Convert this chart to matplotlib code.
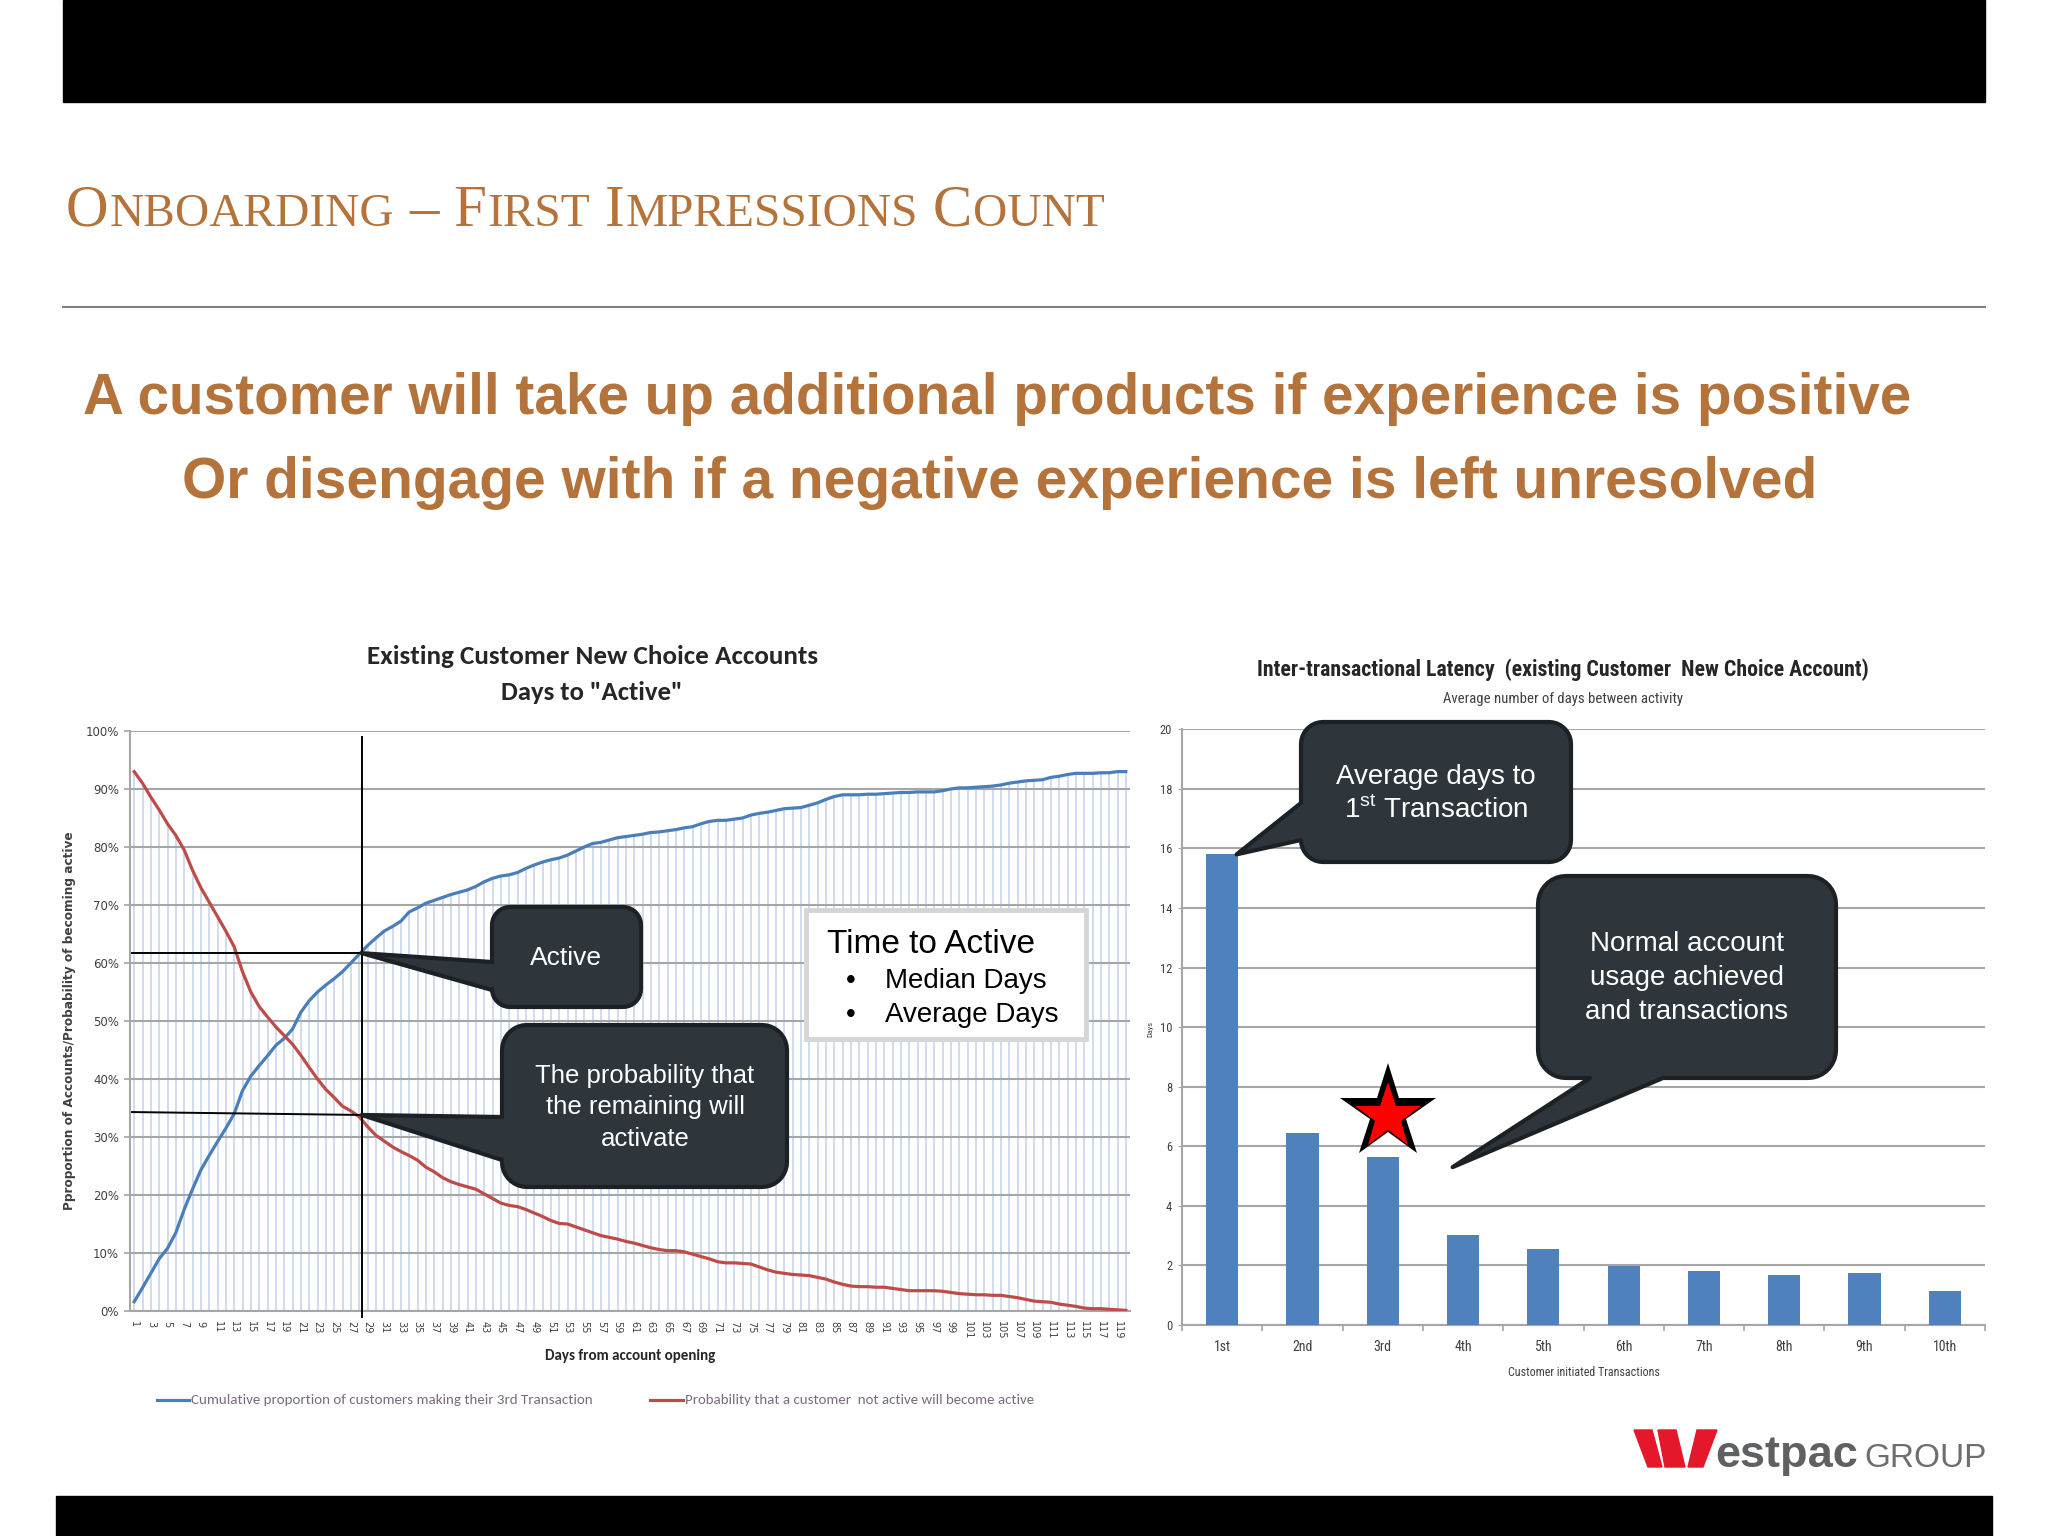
import numpy as np
import matplotlib
matplotlib.use("Agg")
import matplotlib.pyplot as plt
from matplotlib.patches import Polygon, Rectangle
from matplotlib import font_manager as fm

# ---------------- data ----------------
days = list(range(1, 121))
cumulative_3rd_txn = [
    1.6, 4.0, 6.5, 9.0, 10.8, 13.5, 17.5, 21.0, 24.3, 26.8,
    29.2, 31.5, 34.0, 38.0, 40.5, 42.3, 44.0, 45.8, 47.0, 48.6,
    51.5, 53.5, 55.0, 56.2, 57.3, 58.5, 60.0, 61.5, 63.0, 64.3,
    65.5, 66.3, 67.2, 68.8, 69.5, 70.3, 70.8, 71.3, 71.8, 72.2,
    72.6, 73.2, 74.0, 74.6, 75.0, 75.2, 75.6, 76.3, 76.9, 77.4,
    77.8, 78.1, 78.6, 79.3, 80.0, 80.6, 80.8, 81.2, 81.6, 81.8,
    82.0, 82.2, 82.5, 82.6, 82.8, 83.0, 83.3, 83.5, 84.0, 84.4,
    84.6, 84.6, 84.8, 85.0, 85.5, 85.8, 86.0, 86.3, 86.6, 86.7,
    86.8, 87.2, 87.6, 88.2, 88.7, 89.0, 89.0, 89.0, 89.1, 89.1,
    89.2, 89.3, 89.4, 89.4, 89.5, 89.5, 89.5, 89.7, 90.0, 90.2,
    90.2, 90.3, 90.4, 90.5, 90.7, 91.0, 91.2, 91.4, 91.5, 91.6,
    92.0, 92.2, 92.5, 92.7, 92.7, 92.7, 92.8, 92.8, 93.0, 93.0]
prob_not_active_becomes_active = [
    93.0, 91.0, 88.6, 86.4, 84.0, 82.0, 79.5, 76.0, 73.0, 70.5,
    68.0, 65.5, 62.8, 58.5, 55.0, 52.5, 50.7, 49.0, 47.5, 46.0,
    44.1, 42.0, 40.0, 38.2, 36.8, 35.3, 34.5, 33.5, 31.8, 30.3,
    29.3, 28.3, 27.5, 26.8, 26.0, 24.8, 24.0, 23.0, 22.3, 21.8,
    21.4, 21.0, 20.2, 19.4, 18.6, 18.2, 18.0, 17.5, 16.9, 16.3,
    15.6, 15.1, 15.0, 14.5, 14.0, 13.5, 13.0, 12.7, 12.4, 12.0,
    11.7, 11.3, 10.9, 10.6, 10.4, 10.4, 10.2, 9.8, 9.4, 9.0,
    8.5, 8.3, 8.3, 8.2, 8.1, 7.6, 7.1, 6.7, 6.5, 6.3,
    6.2, 6.1, 5.8, 5.5, 5.0, 4.6, 4.3, 4.2, 4.2, 4.1,
    4.1, 3.9, 3.7, 3.5, 3.5, 3.5, 3.5, 3.4, 3.2, 3.0,
    2.9, 2.8, 2.8, 2.7, 2.7, 2.5, 2.3, 2.0, 1.7, 1.6,
    1.5, 1.2, 1.0, 0.8, 0.5, 0.4, 0.4, 0.3, 0.2, 0.1]
pct_tick_values = [0, 10, 20, 30, 40, 50, 60, 70, 80, 90, 100]
pct_tick_labels = ["0%", "10%", "20%", "30%", "40%", "50%", "60%", "70%", "80%", "90%", "100%"]
day_tick_values = days[::2]
marker_day = 28.3
marker_active_pct = 61.7
marker_prob_pct = [34.3, 33.8]

txn_labels = ["1st", "2nd", "3rd", "4th", "5th", "6th", "7th", "8th", "9th", "10th"]
avg_days_between = [15.8, 6.45, 5.65, 3.02, 2.55, 1.98, 1.80, 1.68, 1.75, 1.15]
days_tick_values = [0, 2, 4, 6, 8, 10, 12, 14, 16, 18, 20]

# ---------------- fonts ----------------
def _w(f):
    w = f.weight
    if isinstance(w, str):
        w = fm.weight_dict.get(w, 400)
    return int(w)


def pick(cands, bold=False):
    for c in cands:
        for f in fm.fontManager.ttflist:
            if f.name == c and f.style == "normal" and ((_w(f) >= 600) == bold):
                return c
    return "DejaVu Sans"


NARROW_CANDS = ["Liberation Sans Narrow", "Arial Narrow", "Roboto Condensed", "Archivo Narrow",
                "PT Sans Narrow", "Fira Sans Condensed", "IBM Plex Sans Condensed",
                "Encode Sans Condensed", "Barlow Semi Condensed", "Asap Condensed"]
NARROW_B = pick(NARROW_CANDS, True)
NARROW_R = pick(NARROW_CANDS, False)
CAL_B = pick(["Carlito", "Lato", "Open Sans", "Noto Sans"], True)
CAL_R = pick(["Carlito", "Lato", "Open Sans", "Noto Sans"], False)
ARIAL = "Liberation Sans"
SERIF = "Liberation Serif"
BROWN = "#b5733c"

W, H = 2048, 1536
fig = plt.figure(figsize=(W / 100, H / 100), dpi=100)
fig.patch.set_facecolor("white")
renderer = fig.canvas.get_renderer()

# ---------------- left chart ----------------
ax1 = fig.add_axes([130 / W, (H - 1311) / H, 1000 / W, 580 / H])
ax1.set_axisbelow("line")
ax1.vlines(days, 0, np.maximum(cumulative_3rd_txn, prob_not_active_becomes_active),
           color="#c4d2ec", lw=1.1, zorder=1)
ax1.plot(days, cumulative_3rd_txn, color="#4a7ebb", lw=2.3, zorder=3)
ax1.plot(days, prob_not_active_becomes_active, color="#be4b48", lw=2.3, zorder=3)
ax1.set_xlim(0.5, 120.5)
ax1.set_ylim(0, 100)
ax1.set_yticks(pct_tick_values)
ax1.set_yticklabels(pct_tick_labels)
ax1.set_xticks(day_tick_values)
ax1.set_xticklabels([str(d) for d in day_tick_values], rotation=-90)
ax1.grid(axis="y", color="#a6a6a6", lw=1.5)
for s in ["top", "right"]:
    ax1.spines[s].set_visible(False)
for s in ["left", "bottom"]:
    ax1.spines[s].set_color("#a6a6a6")
    ax1.spines[s].set_linewidth(1.5)
ax1.tick_params(axis="y", length=4, color="#a6a6a6", width=1.2, labelsize=8.5,
                labelcolor="#404040", pad=4)
ax1.tick_params(axis="x", length=0, labelsize=7, pad=7, labelcolor="#404040")
for lab in ax1.get_yticklabels() + ax1.get_xticklabels():
    lab.set_family("DejaVu Sans")
ax1.plot([marker_day, marker_day], [99, -1], color="black", lw=1.4, clip_on=False, zorder=4)
ax1.plot([0.75, marker_day], [marker_active_pct, marker_active_pct], color="black", lw=1.4, zorder=4)
ax1.plot([0.75, marker_day], marker_prob_pct, color="black", lw=1.4, zorder=4)

# ---------------- right chart ----------------
ax2 = fig.add_axes([1182 / W, (H - 1325) / H, 803 / W, 595.7 / H])
ax2.set_axisbelow(True)
xpos = np.arange(len(txn_labels))
ax2.bar(xpos, avg_days_between, width=0.4, color="#4f81bd", zorder=3)
ax2.set_xlim(-0.5, 9.5)
ax2.set_ylim(0, 20)
ax2.set_yticks(days_tick_values)
ax2.set_xticks(xpos)
ax2.set_xticklabels(txn_labels)
ax2.set_xticks(np.arange(-0.5, 10, 1), minor=True)
ax2.grid(axis="y", color="#a6a6a6", lw=1.5)
for s in ["top", "right"]:
    ax2.spines[s].set_visible(False)
for s in ["left", "bottom"]:
    ax2.spines[s].set_color("#a6a6a6")
    ax2.spines[s].set_linewidth(1.5)
ax2.tick_params(axis="x", which="major", length=0, pad=11, labelsize=10, labelcolor="#404040")
ax2.tick_params(axis="x", which="minor", length=4, color="#a6a6a6", width=1.2)
ax2.tick_params(axis="y", length=3, color="#a6a6a6", labelsize=9, labelcolor="#404040", pad=4)
for lab in ax2.get_yticklabels() + ax2.get_xticklabels():
    lab.set_family(NARROW_R)
ax2.plot(2.06, 7.12, marker="*", ms=72, color="black", mew=0, clip_on=False, zorder=6)
ax2.plot(2.06, 6.98, marker="*", ms=50, color="#ff0000", mew=0, clip_on=False, zorder=7)

# ---------------- overlay (slide) ----------------
ov = fig.add_axes([0, 0, 1, 1])
ov.set_xlim(0, W)
ov.set_ylim(H, 0)
ov.axis("off")
ov.set_zorder(10)
ov.patch.set_visible(False)


def to_ov(ax, x, y):
    d = ax.transData.transform((x, y))
    return tuple(ov.transData.inverted().transform(d))


def fit(x, y, s, width, size=20, rotated=False, **kw):
    t = ov.text(x, y, s, fontsize=size, rotation=90 if rotated else 0, **kw)
    bb = t.get_window_extent(renderer)
    cur = bb.height if rotated else bb.width
    t.set_fontsize(size * width / cur)
    return t


ov.add_patch(Rectangle((63, 0), 1922, 102, color="black", zorder=1))
ov.add_patch(Rectangle((56, 1496), 1936, 40, color="black", zorder=1))
ov.plot([63, 1985], [307, 307], color="#808080", lw=1.5)

# small-caps title
pieces = [("O", 1), ("NBOARDING", 0), (None, 0), ("\u2013", 1), (None, 0), ("F", 1), ("IRST", 0),
          (None, 0), ("I", 1), ("MPRESSIONS", 0), (None, 0), ("C", 1), ("OUNT", 0)]


def small_caps(x0, y, big, small, gap, target):
    def layout(scale, keep):
        xc = x0
        for s, b in pieces:
            if s is None:
                xc += gap * scale
                continue
            t = ov.text(xc, y, s, fontsize=(big if b else small) * scale, family=SERIF,
                        color=BROWN, ha="left", va="baseline")
            w = t.get_window_extent(renderer).width
            if not keep:
                t.remove()
            xc += w + 1
        return xc - x0
    total = layout(1.0, False)
    layout(target / total, True)


small_caps(66, 226, 43, 34.5, 14, 1039)

fit(997, 414, "A customer will take up additional products if experience is positive", 1825,
    ha="center", va="baseline", weight="bold", family=ARIAL, color=BROWN)
fit(1000, 498, "Or disengage with if a negative experience is left unresolved", 1631,
    ha="center", va="baseline", weight="bold", family=ARIAL, color=BROWN)

# left chart text
fit(593, 656, "Existing Customer New Choice Accounts", 450, ha="center", va="center",
    weight="bold", family=CAL_B, color="#262626")
fit(592, 692, 'Days to "Active"', 182, ha="center", va="center",
    weight="bold", family=CAL_B, color="#262626")
fit(70, 1021, "Pproportion of Accounts/Probability of becoming active", 381, rotated=True,
    ha="center", va="center", weight="bold", family="DejaVu Sans", color="#404040")
fit(630, 1356, "Days from account opening", 170, ha="center", va="center",
    weight="bold", family=CAL_B, color="#262626")
ov.plot([157, 189], [1400, 1400], color="#4a7ebb", lw=2.3)
fit(191, 1400, "Cumulative proportion of customers making their 3rd Transaction", 400,
    ha="left", va="center", family=CAL_R, color="#7a6b7e")
ov.plot([650, 683], [1400, 1400], color="#be4b48", lw=2.3)
fit(685, 1400, "Probability that a customer  not active will become active", 347,
    ha="left", va="center", family=CAL_R, color="#7a6b7e")

# right chart text
fit(1563, 670, "Inter-transactional Latency  (existing Customer  New Choice Account)", 610,
    ha="center", va="center", weight="bold", family=NARROW_B, color="#262626")
fit(1563, 699, "Average number of days between activity", 239, ha="center", va="center",
    family=NARROW_R, color="#404040")
fit(1150, 1029, "Days", 16, rotated=True, ha="center", va="center",
    family=NARROW_R, color="#404040")
fit(1584, 1372, "Customer initiated Transactions", 152, ha="center", va="center",
    family=NARROW_R, color="#404040")


def callout(x0, y0, x1, y1, r, side, base, tip):
    def arc(cx, cy, a0, a1, n=10):
        a = np.radians(np.linspace(a0, a1, n))
        return list(zip(cx + r * np.cos(a), cy + r * np.sin(a)))
    pts = []
    pts += arc(x0 + r, y0 + r, 180, 270)
    pts += arc(x1 - r, y0 + r, 270, 360)
    pts += arc(x1 - r, y1 - r, 0, 90)
    if side == "bottom":
        pts += [(base[1], y1), tip, (base[0], y1)]
    pts += arc(x0 + r, y1 - r, 90, 180)
    if side == "left":
        pts += [(x0, base[1]), tip, (x0, base[0])]
    ov.add_patch(Polygon(pts, closed=True, fc="#2e353b", ec="#1c2125", lw=3,
                         joinstyle="round", zorder=5))


DARK_TXT = dict(color="white", family=ARIAL, ha="center", va="center", zorder=6)
callout(492, 907, 641, 1007, 18, "left", (962, 990), to_ov(ax1, marker_day, marker_active_pct))
ov.text(566, 958, "Active", fontsize=19, **DARK_TXT)
callout(502, 1025, 787, 1187, 25, "left", (1117, 1160), to_ov(ax1, marker_day, marker_prob_pct[1]))
for yy, s in zip([1076, 1107, 1139], ["The probability that", "the remaining will", "activate"]):
    ov.text(645, yy, s, fontsize=18.5, **DARK_TXT)

callout(1301, 722, 1571, 862, 22, "left", (803, 840), to_ov(ax2, 0.18, avg_days_between[0]))
ov.text(1436, 777, "Average days to", fontsize=20, **DARK_TXT)
ov.text(1436, 810, r"1$^{\mathregular{st}}$ Transaction", fontsize=20, **DARK_TXT)
callout(1538, 876, 1836, 1078, 28, "bottom", (1590, 1663), to_ov(ax2, 2.87, 5.3))
for yy, s in zip([944, 978, 1012], ["Normal account", "usage achieved", "and transactions"]):
    ov.text(1687, yy, s, fontsize=20, **DARK_TXT)

# Time to Active box
ov.add_patch(Rectangle((806, 910), 280, 129, fc="white", ec="#d6d6d6", lw=3.5, zorder=5))
ov.text(827, 953, "Time to Active", ha="left", va="baseline", fontsize=24, family=ARIAL,
        color="black", zorder=6)
for yy, s in zip([988, 1022], ["Median Days", "Average Days"]):
    ov.text(851, yy, "\u2022", ha="center", va="baseline", fontsize=20, family=ARIAL, color="black", zorder=6)
    ov.text(885, yy, s, ha="left", va="baseline", fontsize=20, family=ARIAL, color="black", zorder=6)

# logo
red = "#e4172b"
ov.add_patch(Polygon([(1634, 1430), (1652, 1430), (1662, 1467), (1648, 1467)], color=red))
ov.add_patch(Polygon([(1658, 1430), (1676, 1430), (1685, 1467), (1665, 1467)], color=red))
ov.add_patch(Polygon([(1688, 1467), (1703, 1467), (1717, 1430), (1697, 1430)], color=red))
ov.text(1715, 1467, "estpac", ha="left", va="baseline", fontsize=32.5, weight="bold",
        family=ARIAL, color="#5f6062")
ov.text(1864, 1467, "GROUP", ha="left", va="baseline", fontsize=24, family=ARIAL, color="#6e6e6e")

fig.savefig("out.png", dpi=100)
